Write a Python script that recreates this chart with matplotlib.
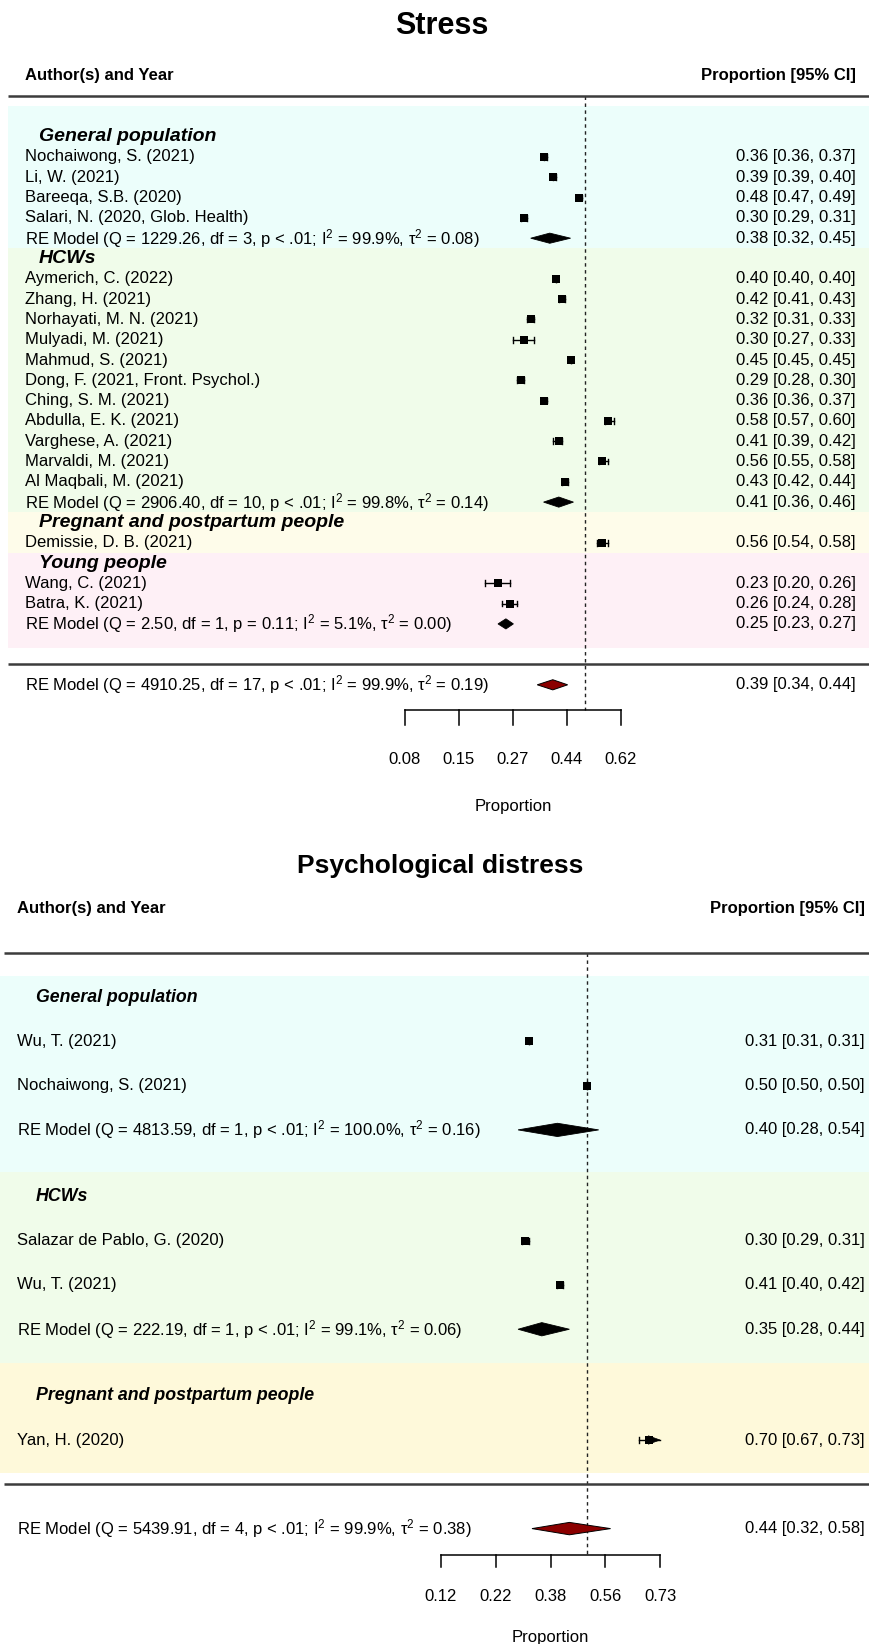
import numpy as np
import matplotlib
matplotlib.use("Agg")
import matplotlib.pyplot as plt
from matplotlib.patches import Polygon, Rectangle
import matplotlib.transforms as mtransforms

plt.rcParams['font.family'] = ['Liberation Sans', 'DejaVu Sans']
plt.rcParams['mathtext.fontset'] = 'custom'
plt.rcParams['mathtext.rm'] = 'Liberation Sans'
plt.rcParams['mathtext.it'] = 'Liberation Sans:italic'
plt.rcParams['mathtext.bf'] = 'Liberation Sans:bold'

# ------------------------------------------------------------------ data
# ---- Stress
stress_title = "Stress"
stress_group_names = ["General population", "HCWs", "Pregnant and postpartum people", "Young people"]

stress_gp_labels = ["Nochaiwong, S. (2021)", "Li, W. (2021)", "Bareeqa, S.B. (2020)",
                    "Salari, N. (2020, Glob. Health)"]
stress_gp_est = [0.36, 0.39, 0.48, 0.30]
stress_gp_lo = [0.36, 0.39, 0.47, 0.29]
stress_gp_hi = [0.37, 0.40, 0.49, 0.31]
stress_gp_re = [0.38, 0.32, 0.45]
stress_gp_stats = [1229.26, 3, "< .01", 99.9, 0.08]

stress_hcw_labels = ["Aymerich, C. (2022)", "Zhang, H. (2021)", "Norhayati, M. N. (2021)",
                     "Mulyadi, M. (2021)", "Mahmud, S. (2021)", "Dong, F. (2021, Front. Psychol.)",
                     "Ching, S. M. (2021)", "Abdulla, E. K. (2021)", "Varghese, A. (2021)",
                     "Marvaldi, M. (2021)", "Al Maqbali, M. (2021)"]
stress_hcw_est = [0.40, 0.42, 0.32, 0.30, 0.45, 0.29, 0.36, 0.58, 0.41, 0.56, 0.43]
stress_hcw_lo = [0.40, 0.41, 0.31, 0.27, 0.45, 0.28, 0.36, 0.57, 0.39, 0.55, 0.42]
stress_hcw_hi = [0.40, 0.43, 0.33, 0.33, 0.45, 0.30, 0.37, 0.60, 0.42, 0.58, 0.44]
stress_hcw_re = [0.41, 0.36, 0.46]
stress_hcw_stats = [2906.40, 10, "< .01", 99.8, 0.14]

stress_preg_labels = ["Demissie, D. B. (2021)"]
stress_preg_est = [0.56]
stress_preg_lo = [0.54]
stress_preg_hi = [0.58]

stress_young_labels = ["Wang, C. (2021)", "Batra, K. (2021)"]
stress_young_est = [0.23, 0.26]
stress_young_lo = [0.20, 0.24]
stress_young_hi = [0.26, 0.28]
stress_young_re = [0.25, 0.23, 0.27]
stress_young_stats = [2.50, 1, "= 0.11", 5.1, 0.00]

stress_overall = [0.39, 0.34, 0.44]
stress_overall_stats = [4910.25, 17, "< .01", 99.9, 0.19]
stress_tick_logits = [-2.5, -1.75, -1.0, -0.25, 0.5]
stress_tick_labels = ["0.08", "0.15", "0.27", "0.44", "0.62"]

# ---- Psychological distress
psy_title = "Psychological distress"
psy_group_names = ["General population", "HCWs", "Pregnant and postpartum people"]

psy_gp_labels = ["Wu, T. (2021)", "Nochaiwong, S. (2021)"]
psy_gp_est = [0.31, 0.50]
psy_gp_lo = [0.31, 0.50]
psy_gp_hi = [0.31, 0.50]
psy_gp_re = [0.40, 0.28, 0.54]
psy_gp_stats = [4813.59, 1, "< .01", 100.0, 0.16]

psy_hcw_labels = ["Salazar de Pablo, G. (2020)", "Wu, T. (2021)"]
psy_hcw_est = [0.30, 0.41]
psy_hcw_lo = [0.29, 0.40]
psy_hcw_hi = [0.31, 0.42]
psy_hcw_re = [0.35, 0.28, 0.44]
psy_hcw_stats = [222.19, 1, "< .01", 99.1, 0.06]

psy_preg_labels = ["Yan, H. (2020)"]
psy_preg_est = [0.70]
psy_preg_lo = [0.67]
psy_preg_hi = [0.733]

psy_overall = [0.44, 0.32, 0.58]
psy_overall_stats = [5439.91, 4, "< .01", 99.9, 0.38]
psy_tick_logits = [-2.0, -1.25, -0.5, 0.25, 1.0]
psy_tick_labels = ["0.12", "0.22", "0.38", "0.56", "0.73"]

# ------------------------------------------------------------------ helpers
W, H = 870, 1644
fig = plt.figure(figsize=(W / 100, H / 100), dpi=100)


def expit(x):
    return 1.0 / (1.0 + np.exp(-np.asarray(x, dtype=float)))


def stats_text(s):
    Q, df, p, i2, t2 = s
    return (f"RE Model (Q = {Q:.2f}, df = {df}, p {p}; I$^2$ = {i2:.1f}%, "
            f"τ$^2$ = {t2:.2f})")


def ci_text(e, lo, hi):
    return f"{e:.2f} [{lo:.2f}, {hi:.2f}]"


def make_axes(px_top, px_bot, row0_px, row_h, zero_px, unit_px):
    ax = fig.add_axes([0, 1 - px_bot / H, 1, (px_bot - px_top) / H])
    ax.set_xscale('logit')
    ax.set_xlim(expit(-zero_px / unit_px), expit((W - zero_px) / unit_px))
    ax.set_ylim((px_bot - row0_px) / row_h, (px_top - row0_px) / row_h)
    ax.axis('off')
    return ax


def draw_panel(ax, L):
    tr = mtransforms.blended_transform_factory(ax.transAxes, ax.transData)
    fs = 12
    # title & header
    ax.text(L['title_x'] / W, L['title_row'], L['title'], transform=tr, ha='center',
            va='center', fontsize=L['title_fs'], fontweight='bold')
    ax.text(L['lab_x'] / W, L['head_row'], "Author(s) and Year", transform=tr,
            ha='left', va='center', fontsize=fs, fontweight='bold')
    ax.text(L['right_x'] / W, L['head_row'], "Proportion [95% CI]", transform=tr,
            ha='right', va='center', fontsize=fs, fontweight='bold')
    # background bands
    for (r0, r1), col in zip(L['bands'], L['band_colors']):
        ax.add_patch(Rectangle((L['band_x0'] / W, r0), 1 - L['band_x0'] / W, r1 - r0,
                               transform=tr, fc=col, ec='none', zorder=0))
    # separator lines
    for r in (L['line_top'], L['line_bot']):
        ax.plot([L['line_x0'] / W, 1], [r, r], transform=tr, color='#3c3c3c', lw=1.8,
                solid_capstyle='butt', zorder=2)
    # reference line at 0.5 (logit 0)
    ax.plot([0.5, 0.5], [L['line_top'], L['axis_row']], color='#222222', lw=1,
            ls=(0, (2.5, 2.5)), zorder=1)

    alim = expit(L['ticks'][-1])
    cap = L['cap']
    for g, (name, labels, est, lo, hi, re, st) in enumerate(L['groups']):
        rows = L['rows'][g]
        ax.text(L['grp_x'] / W, rows[0], name, transform=tr, ha='left', va='center',
                fontsize=L['grp_fs'], fontweight='bold', fontstyle='italic')
        for i, lab in enumerate(labels):
            r = rows[1 + i]
            ax.text(L['lab_x'] / W, r, lab, transform=tr, ha='left', va='center', fontsize=fs)
            ax.text(L['right_x'] / W, r, ci_text(est[i], lo[i], hi[i]), transform=tr,
                    ha='right', va='center', fontsize=fs)
            h = min(hi[i], alim)
            ax.plot([lo[i], h], [r, r], color='black', lw=1, zorder=3)
            ax.plot([lo[i], lo[i]], [r - cap, r + cap], color='black', lw=1, zorder=3)
            if hi[i] > alim:
                base = expit(L['ticks'][-1] - L['arrow_len'])
                ax.add_patch(Polygon([(base, r - L['arrow_h']), (alim, r),
                                      (base, r + L['arrow_h'])], closed=True,
                                     fc='black', ec='black', lw=0.5, zorder=4))
            else:
                ax.plot([hi[i], hi[i]], [r - cap, r + cap], color='black', lw=1, zorder=3)
            ax.plot([est[i]], [r], marker='s', ms=L['ms'], color='black', zorder=5,
                    mew=0)
        if re is not None:
            r = rows[-1]
            ax.text(L['lab_x'] / W, r, stats_text(st), transform=tr, ha='left',
                    va='center', fontsize=fs)
            ax.text(L['right_x'] / W, r, ci_text(*re), transform=tr, ha='right',
                    va='center', fontsize=fs)
            d = L['dia_h']
            ax.add_patch(Polygon([(re[1], r), (re[0], r - d), (re[2], r), (re[0], r + d)],
                                 closed=True, fc='black', ec='black', lw=0.6, zorder=4))
    # overall
    oe, ost, r = L['overall'], L['overall_stats'], L['overall_row']
    ax.text(L['lab_x'] / W, r, stats_text(ost), transform=tr, ha='left', va='center',
            fontsize=fs)
    ax.text(L['right_x'] / W, r, ci_text(*oe), transform=tr, ha='right', va='center',
            fontsize=fs)
    d = L['odia_h']
    ax.add_patch(Polygon([(oe[1], r), (oe[0], r - d), (oe[2], r), (oe[0], r + d)],
                         closed=True, fc='#8B0000', ec='black', lw=0.7, zorder=4))
    # axis
    tp = expit(L['ticks'])
    ax.plot([tp[0], tp[-1]], [L['axis_row'], L['axis_row']], color='black', lw=1.1)
    for t, lab in zip(tp, L['tick_labels']):
        ax.plot([t, t], [L['axis_row'], L['tick_end']], color='black', lw=1.1)
        ax.text(t, L['ticklab_row'], lab, ha='center', va='center', fontsize=fs)
    ax.text(expit(np.mean(L['ticks'])), L['xlabel_row'], "Proportion", ha='center',
            va='center', fontsize=fs)


# ------------------------------------------------------------------ top panel
ax1 = make_axes(0, 822, 136.7, 20.3, 585, 72.0)
top_rows = [[0, 1, 2, 3, 4, 5],
            [6] + list(range(7, 18)) + [18],
            [19, 20],
            [21, 22, 23, 24]]
draw_panel(ax1, dict(
    title=stress_title, title_x=442, title_row=-5.45, title_fs=22,
    head_row=-3.03, lab_x=25, right_x=856, grp_x=39, grp_fs=14,
    bands=[(-1.53, 5.5), (5.5, 18.5), (18.5, 20.5), (20.5, 25.2)],
    band_colors=['#ECFEFB', '#F0FCEA', '#FEFCEA', '#FEF0F6'], band_x0=8,
    line_top=-2.0, line_bot=26.0, line_x0=8,
    groups=[
        (stress_group_names[0], stress_gp_labels, stress_gp_est, stress_gp_lo, stress_gp_hi,
         stress_gp_re, stress_gp_stats),
        (stress_group_names[1], stress_hcw_labels, stress_hcw_est, stress_hcw_lo, stress_hcw_hi,
         stress_hcw_re, stress_hcw_stats),
        (stress_group_names[2], stress_preg_labels, stress_preg_est, stress_preg_lo,
         stress_preg_hi, None, None),
        (stress_group_names[3], stress_young_labels, stress_young_est, stress_young_lo,
         stress_young_hi, stress_young_re, stress_young_stats),
    ],
    rows=top_rows, cap=0.14, ms=5.4, dia_h=0.25, odia_h=0.25,
    arrow_len=0.16, arrow_h=0.2,
    overall=stress_overall, overall_stats=stress_overall_stats, overall_row=27.0,
    ticks=stress_tick_logits, tick_labels=stress_tick_labels,
    axis_row=28.24, tick_end=28.97, ticklab_row=30.66, xlabel_row=33.0,
))

# ------------------------------------------------------------------ bottom panel
ax2 = make_axes(822, 1644, 997.0, 44.3, 587, 73.0)
bot_rows = [[0, 1, 2, 3],
            [4.5, 5.5, 6.5, 7.5],
            [9.0, 10.0]]
draw_panel(ax2, dict(
    title=psy_title, title_x=440, title_row=-2.95, title_fs=19,
    head_row=-1.99, lab_x=17, right_x=865, grp_x=36, grp_fs=12.8,
    bands=[(-0.47, 3.95), (3.95, 8.26), (8.26, 10.75)],
    band_colors=['#ECFEFB', '#F0FCEA', '#FEF9DA'], band_x0=0,
    line_top=-1.0, line_bot=11.0, line_x0=4,
    groups=[
        (psy_group_names[0], psy_gp_labels, psy_gp_est, psy_gp_lo, psy_gp_hi,
         psy_gp_re, psy_gp_stats),
        (psy_group_names[1], psy_hcw_labels, psy_hcw_est, psy_hcw_lo, psy_hcw_hi,
         psy_hcw_re, psy_hcw_stats),
        (psy_group_names[2], psy_preg_labels, psy_preg_est, psy_preg_lo, psy_preg_hi,
         None, None),
    ],
    rows=bot_rows, cap=0.07, ms=5.6, dia_h=0.15, odia_h=0.14,
    arrow_len=0.16, arrow_h=0.095,
    overall=psy_overall, overall_stats=psy_overall_stats, overall_row=12.0,
    ticks=psy_tick_logits, tick_labels=psy_tick_labels,
    axis_row=12.59, tick_end=12.87, ticklab_row=13.54, xlabel_row=14.45,
))

fig.savefig("out.png", dpi=100)
